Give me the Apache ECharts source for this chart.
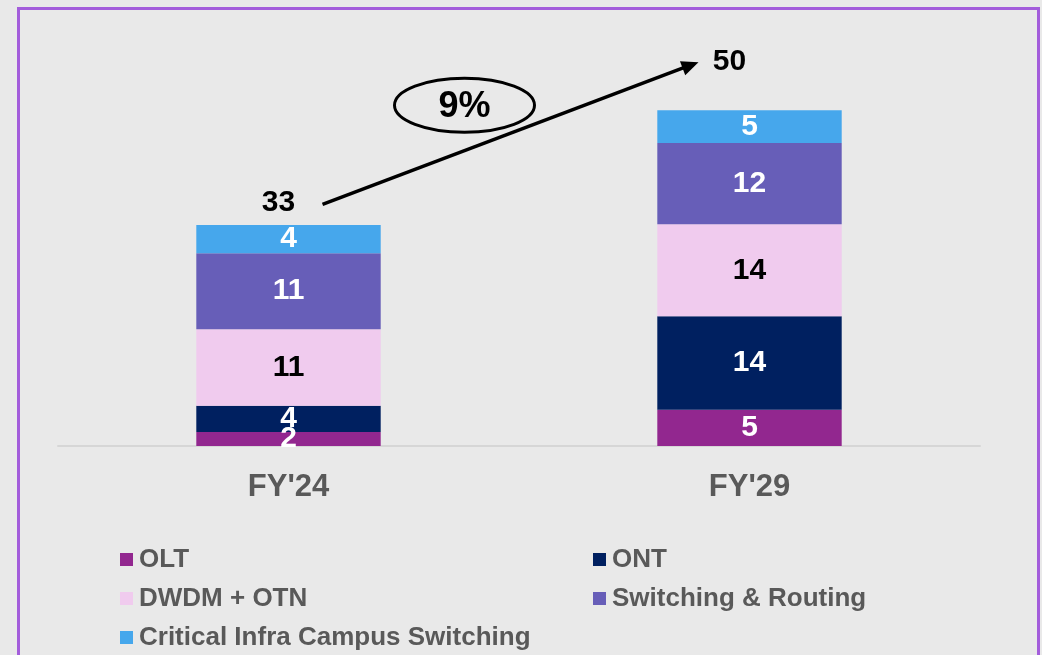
<!DOCTYPE html>
<html><head><meta charset="utf-8">
<script src="https://cdn.jsdelivr.net/npm/echarts@6/dist/echarts.min.js"></script>
<style>html,body{margin:0;padding:0;background:#e9e9e9;}#c{width:1042px;height:655px;}</style>
</head><body><div id="c"></div>
<script>
const categories = ["FY'24", "FY'29"];
const seriesNames = ['OLT', 'ONT', 'DWDM + OTN', 'Switching & Routing', 'Critical Infra Campus Switching'];
const olt = [2.1, 5.4];
const ont = [3.9, 13.9];
const dwdm = [11.4, 13.7];
const switching = [11.3, 12.1];
const critical = [4.2, 4.9];
const totals = [33, 50];
const cagrLabel = '9%';

const colors = ['#92278f', '#002060', '#f0cbee', '#675eb8', '#46a7ec'];
const labelColors = ['#ffffff', '#ffffff', '#000000', '#ffffff', '#ffffff'];
const seriesData = [olt, ont, dwdm, switching, critical];
const FONT = 'Liberation Sans, Arial, sans-serif';

const chart = echarts.init(document.getElementById('c'));
const series = seriesData.map((d, i) => ({
  name: seriesNames[i],
  type: 'bar',
  stack: 'total',
  barWidth: '40%',
  data: d,
  itemStyle: { color: colors[i] },
  label: {
    show: true,
    position: 'inside',
    color: labelColors[i],
    fontFamily: FONT,
    fontWeight: 'bold',
    fontSize: 30,
    formatter: p => Math.round(p.value)
  },
  emphasis: { disabled: true },
  animation: false
}));

const legendCommon = {
  orient: 'vertical',
  icon: 'rect',
  itemWidth: 13,
  itemHeight: 13,
  itemGap: 12,
  padding: 0,
  height: 150,
  textStyle: { color: '#595959', fontFamily: FONT, fontWeight: 'bold', fontSize: 26, lineHeight: 27, padding: [0, 0, 0, 1] },
  selectedMode: false
};

chart.setOption({
  animation: false,
  backgroundColor: '#e9e9e9',
  grid: { left: 58, right: 62, top: 43, bottom: 209 },
  xAxis: {
    type: 'category',
    data: categories,
    axisLine: { lineStyle: { color: '#d6d6d6', width: 2 } },
    axisTick: { show: false },
    axisLabel: { color: '#595959', fontFamily: FONT, fontWeight: 'bold', fontSize: 31, margin: 26 }
  },
  yAxis: { type: 'value', min: 0, max: 60, show: false, splitLine: { show: false } },
  legend: [
    Object.assign({}, legendCommon, { left: 120, top: 546, data: [seriesNames[0], seriesNames[2], seriesNames[4]] }),
    Object.assign({}, legendCommon, { left: 593, top: 546, data: [seriesNames[1], seriesNames[3]] })
  ],
  series: series
});

const p1 = chart.convertToPixel({ gridIndex: 0 }, [0, totals[0]]);
const p2 = chart.convertToPixel({ gridIndex: 0 }, [1, totals[1]]);
const a0 = [p1[0] + 34, p1[1] - 20];
const a1 = [p2[0] - 51, p2[1] - 48];
const dx = a1[0] - a0[0], dy = a1[1] - a0[1];
const len = Math.sqrt(dx * dx + dy * dy);
const ux = dx / len, uy = dy / len;
const headL = 17, headW = 7.5;
const base = [a1[0] - ux * headL, a1[1] - uy * headL];
const lineEnd = [a1[0] - ux * (headL - 2), a1[1] - uy * (headL - 2)];
const mid = [(a0[0] + a1[0]) / 2, (a0[1] + a1[1]) / 2];
const ell = [mid[0] - 46, mid[1] - 28];

chart.setOption({
  graphic: [
    { type: 'rect', shape: { x: 18.5, y: 8.5, width: 1020, height: 700 }, style: { fill: 'none', stroke: '#a35ddb', lineWidth: 3 }, silent: true },
    { type: 'text', x: p1[0] - 10, y: p1[1] - 22, style: { text: String(totals[0]), fill: '#000', font: 'bold 30px ' + FONT, textAlign: 'center', textVerticalAlign: 'middle' } },
    { type: 'text', x: p2[0] - 20, y: p2[1] - 48, style: { text: String(totals[1]), fill: '#000', font: 'bold 30px ' + FONT, textAlign: 'center', textVerticalAlign: 'middle' } },
    { type: 'line', shape: { x1: a0[0], y1: a0[1], x2: lineEnd[0], y2: lineEnd[1] }, style: { stroke: '#000', lineWidth: 3.5 } },
    { type: 'polygon', shape: { points: [a1, [base[0] - uy * headW, base[1] + ux * headW], [base[0] + uy * headW, base[1] - ux * headW]] }, style: { fill: '#000' } },
    { type: 'ellipse', shape: { cx: ell[0], cy: ell[1], rx: 70, ry: 27 }, style: { fill: 'none', stroke: '#000', lineWidth: 3 } },
    { type: 'text', x: ell[0], y: ell[1] + 2, style: { text: cagrLabel, fill: '#000', font: 'bold 36px ' + FONT, textAlign: 'center', textVerticalAlign: 'middle' } }
  ]
});
</script></body></html>
